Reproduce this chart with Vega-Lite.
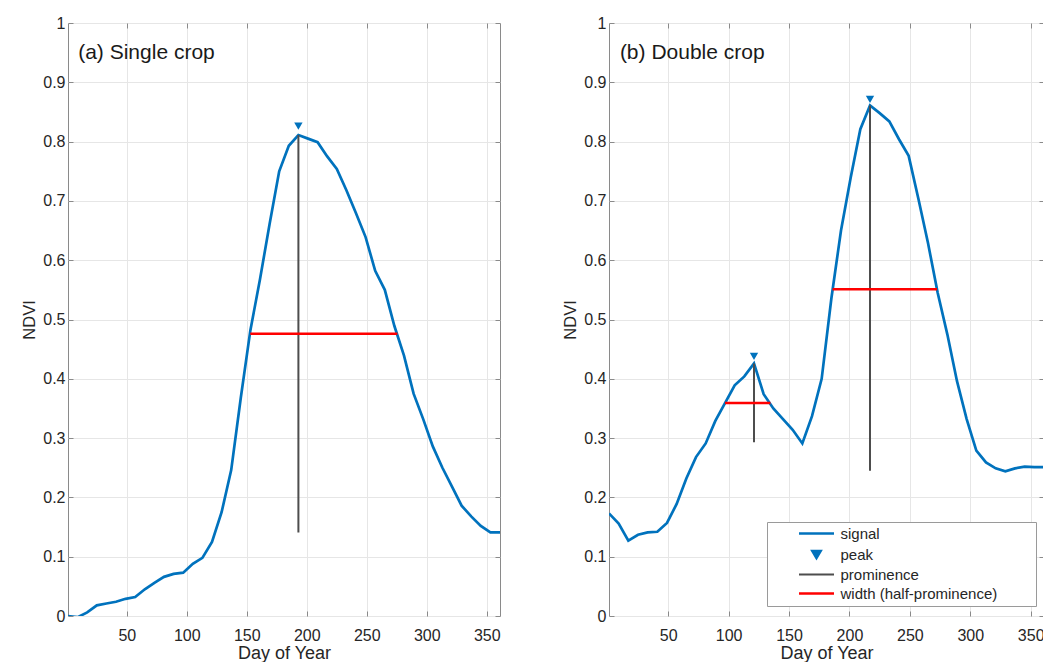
{
  "$schema": "https://vega.github.io/schema/vega-lite/v6.json",
  "background": "white",
  "padding": {"left": 21, "top": 14, "right": 0, "bottom": 0},
  "datasets": {
    "signal": [
      {"crop": "single", "day": 1, "ndvi": 0.0},
      {"crop": "single", "day": 9, "ndvi": -0.002},
      {"crop": "single", "day": 17, "ndvi": 0.006},
      {"crop": "single", "day": 25, "ndvi": 0.018},
      {"crop": "single", "day": 33, "ndvi": 0.021},
      {"crop": "single", "day": 41, "ndvi": 0.024},
      {"crop": "single", "day": 49, "ndvi": 0.029},
      {"crop": "single", "day": 57, "ndvi": 0.032},
      {"crop": "single", "day": 65, "ndvi": 0.045},
      {"crop": "single", "day": 73, "ndvi": 0.056},
      {"crop": "single", "day": 81, "ndvi": 0.066},
      {"crop": "single", "day": 89, "ndvi": 0.071},
      {"crop": "single", "day": 97, "ndvi": 0.073},
      {"crop": "single", "day": 105, "ndvi": 0.088},
      {"crop": "single", "day": 113, "ndvi": 0.098},
      {"crop": "single", "day": 121, "ndvi": 0.125},
      {"crop": "single", "day": 129, "ndvi": 0.175},
      {"crop": "single", "day": 137, "ndvi": 0.246},
      {"crop": "single", "day": 145, "ndvi": 0.368},
      {"crop": "single", "day": 153, "ndvi": 0.482},
      {"crop": "single", "day": 161, "ndvi": 0.568},
      {"crop": "single", "day": 169, "ndvi": 0.661},
      {"crop": "single", "day": 177, "ndvi": 0.75},
      {"crop": "single", "day": 185, "ndvi": 0.793},
      {"crop": "single", "day": 193, "ndvi": 0.811},
      {"crop": "single", "day": 201, "ndvi": 0.805},
      {"crop": "single", "day": 209, "ndvi": 0.799},
      {"crop": "single", "day": 217, "ndvi": 0.775},
      {"crop": "single", "day": 225, "ndvi": 0.754},
      {"crop": "single", "day": 233, "ndvi": 0.718},
      {"crop": "single", "day": 241, "ndvi": 0.679},
      {"crop": "single", "day": 249, "ndvi": 0.639},
      {"crop": "single", "day": 257, "ndvi": 0.582},
      {"crop": "single", "day": 265, "ndvi": 0.55},
      {"crop": "single", "day": 273, "ndvi": 0.489},
      {"crop": "single", "day": 281, "ndvi": 0.439},
      {"crop": "single", "day": 289, "ndvi": 0.375},
      {"crop": "single", "day": 297, "ndvi": 0.332},
      {"crop": "single", "day": 305, "ndvi": 0.286},
      {"crop": "single", "day": 313, "ndvi": 0.25},
      {"crop": "single", "day": 321, "ndvi": 0.218},
      {"crop": "single", "day": 329, "ndvi": 0.186},
      {"crop": "single", "day": 337, "ndvi": 0.168},
      {"crop": "single", "day": 345, "ndvi": 0.152},
      {"crop": "single", "day": 353, "ndvi": 0.141},
      {"crop": "single", "day": 361, "ndvi": 0.141},
      {"crop": "double", "day": 1, "ndvi": 0.173},
      {"crop": "double", "day": 9, "ndvi": 0.156},
      {"crop": "double", "day": 17, "ndvi": 0.127},
      {"crop": "double", "day": 25, "ndvi": 0.137},
      {"crop": "double", "day": 33, "ndvi": 0.141},
      {"crop": "double", "day": 41, "ndvi": 0.142},
      {"crop": "double", "day": 49, "ndvi": 0.157},
      {"crop": "double", "day": 57, "ndvi": 0.189},
      {"crop": "double", "day": 65, "ndvi": 0.232},
      {"crop": "double", "day": 73, "ndvi": 0.268},
      {"crop": "double", "day": 81, "ndvi": 0.291},
      {"crop": "double", "day": 89, "ndvi": 0.329},
      {"crop": "double", "day": 97, "ndvi": 0.359},
      {"crop": "double", "day": 105, "ndvi": 0.389},
      {"crop": "double", "day": 113, "ndvi": 0.404},
      {"crop": "double", "day": 121, "ndvi": 0.426},
      {"crop": "double", "day": 129, "ndvi": 0.374},
      {"crop": "double", "day": 137, "ndvi": 0.35},
      {"crop": "double", "day": 145, "ndvi": 0.332},
      {"crop": "double", "day": 153, "ndvi": 0.314},
      {"crop": "double", "day": 161, "ndvi": 0.291},
      {"crop": "double", "day": 169, "ndvi": 0.337},
      {"crop": "double", "day": 177, "ndvi": 0.4},
      {"crop": "double", "day": 185, "ndvi": 0.535},
      {"crop": "double", "day": 193, "ndvi": 0.65},
      {"crop": "double", "day": 201, "ndvi": 0.739},
      {"crop": "double", "day": 209, "ndvi": 0.821},
      {"crop": "double", "day": 217, "ndvi": 0.861},
      {"crop": "double", "day": 225, "ndvi": 0.848},
      {"crop": "double", "day": 233, "ndvi": 0.834},
      {"crop": "double", "day": 241, "ndvi": 0.804},
      {"crop": "double", "day": 249, "ndvi": 0.776},
      {"crop": "double", "day": 257, "ndvi": 0.704},
      {"crop": "double", "day": 265, "ndvi": 0.629},
      {"crop": "double", "day": 273, "ndvi": 0.545},
      {"crop": "double", "day": 281, "ndvi": 0.475},
      {"crop": "double", "day": 289, "ndvi": 0.396},
      {"crop": "double", "day": 297, "ndvi": 0.332},
      {"crop": "double", "day": 305, "ndvi": 0.279},
      {"crop": "double", "day": 313, "ndvi": 0.259},
      {"crop": "double", "day": 321, "ndvi": 0.249},
      {"crop": "double", "day": 329, "ndvi": 0.244},
      {"crop": "double", "day": 337, "ndvi": 0.249},
      {"crop": "double", "day": 345, "ndvi": 0.252},
      {"crop": "double", "day": 353, "ndvi": 0.251},
      {"crop": "double", "day": 361, "ndvi": 0.251}
    ],
    "peaks": [
      {"crop": "single", "day": 193, "peak": 0.811, "marker": 0.826, "base": 0.141, "half": 0.476, "left": 152.9, "right": 275.5},
      {"crop": "double", "day": 121, "peak": 0.426, "marker": 0.438, "base": 0.293, "half": 0.359, "left": 97, "right": 134.6},
      {"crop": "double", "day": 217, "peak": 0.861, "marker": 0.871, "base": 0.245, "half": 0.551, "left": 186, "right": 272.5}
    ]
  },
  "config": {
    "font": "Liberation Sans",
    "view": {"stroke": "#8a8a8a", "strokeWidth": 1},
    "axis": {
      "gridColor": "#e6e6e6",
      "gridWidth": 1,
      "domain": false,
      "tickColor": "#8a8a8a",
      "tickSize": -5,
      "labelFont": "Liberation Sans",
      "labelFontSize": 16,
      "labelColor": "#262626",
      "labelPadding": 8,
      "titleFont": "Liberation Sans",
      "titleFontWeight": "normal",
      "titleColor": "#262626",
      "titleFontSize": 17
    },
    "concat": {"spacing": 61}
  },
  "resolve": {"scale": {"color": "independent"}, "legend": {"color": "independent"}},
  "hconcat": [
    {
      "width": 432,
      "height": 593,
      "resolve": {"axis": {"x": "independent", "y": "independent"}},
      "layer": [
        {
          "data": {"name": "signal"},
          "transform": [{"filter": "datum.crop === 'single'"}],
          "mark": {"type": "line", "color": "#0072BD", "strokeWidth": 2.7, "clip": true},
          "encoding": {
            "x": {"field": "day", "type": "quantitative", "scale": {"domain": [1, 361], "nice": false, "zero": false},
              "axis": {"values": [50, 100, 150, 200, 250, 300, 350], "title": "Day of Year", "labelPadding": 16, "titlePadding": 1, "titleFontSize": 18}},
            "y": {"field": "ndvi", "type": "quantitative", "scale": {"domain": [0, 1], "nice": false},
              "axis": {"values": [0, 0.1, 0.2, 0.3, 0.4, 0.5, 0.6, 0.7, 0.8, 0.9, 1], "format": "~g", "title": "NDVI", "titlePadding": 5, "titleFontSize": 16.5}}
          }
        },
        {
          "data": {"name": "peaks"},
          "transform": [{"filter": "datum.crop === 'single'"}],
          "mark": {"type": "rule", "color": "#4d4d4d", "strokeWidth": 2},
          "encoding": {
            "x": {"field": "day", "type": "quantitative", "axis": null},
            "y": {"field": "peak", "type": "quantitative", "axis": null},
            "y2": {"field": "base"}
          }
        },
        {
          "data": {"name": "peaks"},
          "transform": [{"filter": "datum.crop === 'single'"}],
          "mark": {"type": "rule", "color": "#ff0000", "strokeWidth": 2.5},
          "encoding": {
            "x": {"field": "left", "type": "quantitative", "axis": null},
            "x2": {"field": "right"},
            "y": {"field": "half", "type": "quantitative", "axis": null}
          }
        },
        {
          "data": {"name": "peaks"},
          "transform": [{"filter": "datum.crop === 'single'"}],
          "mark": {"type": "point", "shape": "triangle-down", "filled": true, "size": 70, "color": "#0072BD", "opacity": 1},
          "encoding": {
            "x": {"field": "day", "type": "quantitative",
              "axis": {"orient": "top", "values": [50, 100, 150, 200, 250, 300, 350], "labels": false, "grid": false, "title": null}},
            "y": {"field": "marker", "type": "quantitative",
              "axis": {"orient": "right", "values": [0, 0.1, 0.2, 0.3, 0.4, 0.5, 0.6, 0.7, 0.8, 0.9, 1], "labels": false, "grid": false, "title": null}}
          }
        },
        {
          "data": {"values": [{"label": "(a) Single crop"}]},
          "mark": {"type": "text", "align": "left", "baseline": "middle", "fontSize": 21, "color": "#1a1a1a"},
          "encoding": {
            "x": {"datum": 9.5, "type": "quantitative", "axis": null},
            "y": {"datum": 0.949, "type": "quantitative", "axis": null},
            "text": {"field": "label"}
          }
        }
      ]
    },
    {
      "width": 435,
      "height": 593,
      "resolve": {"axis": {"x": "independent", "y": "independent"}},
      "layer": [
        {
          "data": {"name": "signal"},
          "transform": [{"filter": "datum.crop === 'double'"}],
          "mark": {"type": "line", "strokeWidth": 2.7, "clip": true},
          "encoding": {
            "x": {"field": "day", "type": "quantitative", "scale": {"domain": [1, 361], "nice": false, "zero": false},
              "axis": {"values": [50, 100, 150, 200, 250, 300, 350], "title": "Day of Year", "labelPadding": 16, "titlePadding": 1, "titleFontSize": 18}},
            "y": {"field": "ndvi", "type": "quantitative", "scale": {"domain": [0, 1], "nice": false},
              "axis": {"values": [0, 0.1, 0.2, 0.3, 0.4, 0.5, 0.6, 0.7, 0.8, 0.9, 1], "format": "~g", "title": "NDVI", "titlePadding": 5, "titleFontSize": 16.5}},
            "color": {
              "datum": "signal",
              "type": "nominal",
              "scale": {"domain": ["signal", "peak", "prominence", "width (half-prominence)"], "range": ["#0072BD", "#0072BD", "#4d4d4d", "#ff0000"]},
              "legend": {
                "title": null,
                "orient": "none",
                "legendX": 158,
                "legendY": 499,
                "strokeColor": "#9a9a9a",
                "fillColor": "white",
                "padding": 4,
                "symbolOffset": 38,
                "labelFontSize": 15,
                "labelColor": "#262626",
                "labelOffset": 16.5,
                "labelLimit": 400,
                "rowPadding": 3,
                "symbolType": "stroke",
                "symbolSize": 1225,
                "symbolStrokeWidth": 2.5,
                "encode": {
                  "labels": {
                    "update": {
                      "text": {"signal": "datum.label + '\u2003\u2003\u00a0\u200b'"}
                    }
                  },
                  "symbols": {
                    "update": {
                      "shape": {"signal": "datum.value === 'peak' ? 'triangle-down' : 'stroke'"},
                      "size": {"signal": "datum.value === 'peak' ? 70 : 1225"},
                      "fill": {"signal": "datum.value === 'peak' ? '#0072BD' : 'transparent'"},
                      "stroke": {"signal": "datum.value === 'signal' ? '#0072BD' : datum.value === 'peak' ? 'transparent' : datum.value === 'prominence' ? '#4d4d4d' : '#ff0000'"},
                      "strokeWidth": {"signal": "datum.value === 'prominence' ? 2 : 2.5"}
                    }
                  }
                }
              }
            }
          }
        },
        {
          "data": {"name": "peaks"},
          "transform": [{"filter": "datum.crop === 'double'"}],
          "mark": {"type": "rule", "strokeWidth": 2},
          "encoding": {
            "x": {"field": "day", "type": "quantitative", "axis": null},
            "y": {"field": "peak", "type": "quantitative", "axis": null},
            "y2": {"field": "base"},
            "color": {"datum": "prominence", "type": "nominal"}
          }
        },
        {
          "data": {"name": "peaks"},
          "transform": [{"filter": "datum.crop === 'double'"}],
          "mark": {"type": "rule", "strokeWidth": 2.5},
          "encoding": {
            "x": {"field": "left", "type": "quantitative", "axis": null},
            "x2": {"field": "right"},
            "y": {"field": "half", "type": "quantitative", "axis": null},
            "color": {"datum": "width (half-prominence)", "type": "nominal"}
          }
        },
        {
          "data": {"name": "peaks"},
          "transform": [{"filter": "datum.crop === 'double'"}],
          "mark": {"type": "point", "shape": "triangle-down", "filled": true, "size": 70, "opacity": 1},
          "encoding": {
            "x": {"field": "day", "type": "quantitative",
              "axis": {"orient": "top", "values": [50, 100, 150, 200, 250, 300, 350], "labels": false, "grid": false, "title": null}},
            "y": {"field": "marker", "type": "quantitative",
              "axis": {"orient": "right", "values": [0, 0.1, 0.2, 0.3, 0.4, 0.5, 0.6, 0.7, 0.8, 0.9, 1], "labels": false, "grid": false, "title": null}},
            "color": {"datum": "peak", "type": "nominal"}
          }
        },
        {
          "data": {"values": [{"label": "(b) Double crop"}]},
          "mark": {"type": "text", "align": "left", "baseline": "middle", "fontSize": 21, "color": "#1a1a1a"},
          "encoding": {
            "x": {"datum": 10, "type": "quantitative", "axis": null},
            "y": {"datum": 0.949, "type": "quantitative", "axis": null},
            "text": {"field": "label"}
          }
        }
      ]
    }
  ]
}
